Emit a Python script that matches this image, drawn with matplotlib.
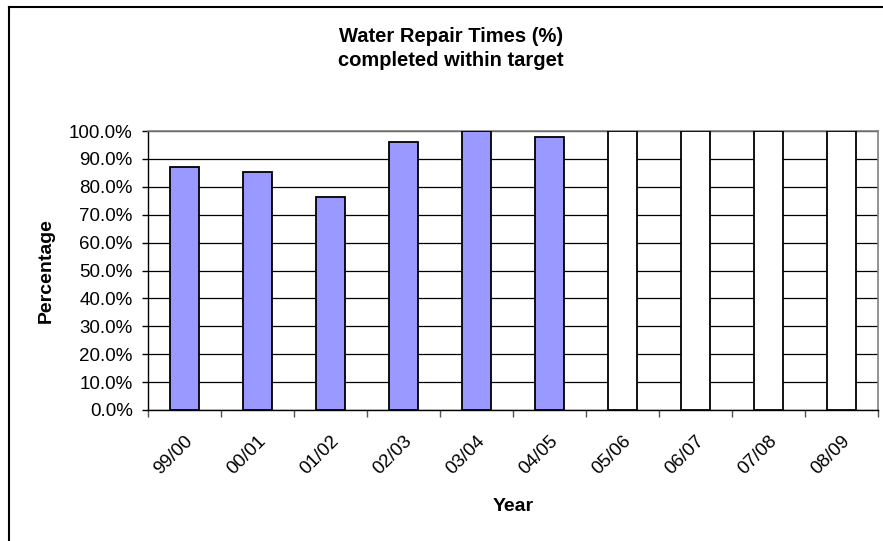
import matplotlib
matplotlib.use('Agg')
import matplotlib.pyplot as plt
from matplotlib.lines import Line2D
from matplotlib.ticker import FuncFormatter, FixedLocator

# данные с графика
years = ['99/00', '00/01', '01/02', '02/03', '03/04', '04/05', '05/06', '06/07', '07/08', '08/09']
actual = [87.1, 85.3, 76.3, 96.1, 100.0, 97.8]      # фактические значения
target = [100.0, 100.0, 100.0, 100.0]                # целевые значения (белые столбцы)

plt.rcParams['font.family'] = ['Liberation Sans', 'DejaVu Sans']

fig = plt.figure(figsize=(8.83, 5.41), dpi=100)
ax = fig.add_axes([148 / 883, 1 - 410 / 541, 730 / 883, 279 / 541])

x_act = list(range(len(actual)))
x_tgt = list(range(len(actual), len(years)))
ax.bar(x_act, actual, width=0.41, color='#9999FF', edgecolor='black', linewidth=1.3, zorder=3)
ax.bar(x_tgt, target, width=0.41, color='white', edgecolor='black', linewidth=1.3, zorder=3)

ax.set_xlim(-0.5, len(years) - 0.5)
ax.set_ylim(0, 100)

# ось Y
ax.set_yticks(range(0, 101, 10))
ax.yaxis.set_major_formatter(FuncFormatter(lambda v, p: f'{v:.1f}%'))
ax.tick_params(axis='y', direction='out', length=4, width=1, pad=7, labelsize=13.5, colors='black')
ax.yaxis.grid(True, color='black', linewidth=0.9)
ax.set_axisbelow(True)

# ось X: подписи по центрам, засечки по границам
ax.set_xticks(range(len(years)))
ax.set_xticklabels(years, rotation=45, ha='right', rotation_mode='anchor')
ax.tick_params(axis='x', which='major', length=0, pad=16, labelsize=13.5)
ax.xaxis.set_minor_locator(FixedLocator([i - 0.5 for i in range(len(years) + 1)]))
ax.tick_params(axis='x', which='minor', direction='out', length=5, width=1, color='#555555')

for s in ['top', 'right']:
    ax.spines[s].set_color('#808080')
    ax.spines[s].set_linewidth(1.2)
for s in ['left', 'bottom']:
    ax.spines[s].set_color('black')
    ax.spines[s].set_linewidth(1.0)

ax.set_ylabel('Percentage', fontsize=14, fontweight='bold', labelpad=10)
ax.set_xlabel('Year', fontsize=14, fontweight='bold', labelpad=15)

fig.text(451 / 883, 1 - 36 / 541, 'Water Repair Times (%)', ha='center', va='center',
         fontsize=14.5, fontweight='bold')
fig.text(451 / 883, 1 - 61 / 541, 'completed within target', ha='center', va='center',
         fontsize=14.5, fontweight='bold')

# рамка области диаграммы (видны только левая и верхняя стороны)
fig.add_artist(Line2D([9 / 883, 9 / 883], [0, 1 - 7 / 541], transform=fig.transFigure, color='black', linewidth=1.5))
fig.add_artist(Line2D([9 / 883, 1], [1 - 7 / 541, 1 - 7 / 541], transform=fig.transFigure, color='black', linewidth=1.5))

fig.savefig('out.png', dpi=100)
